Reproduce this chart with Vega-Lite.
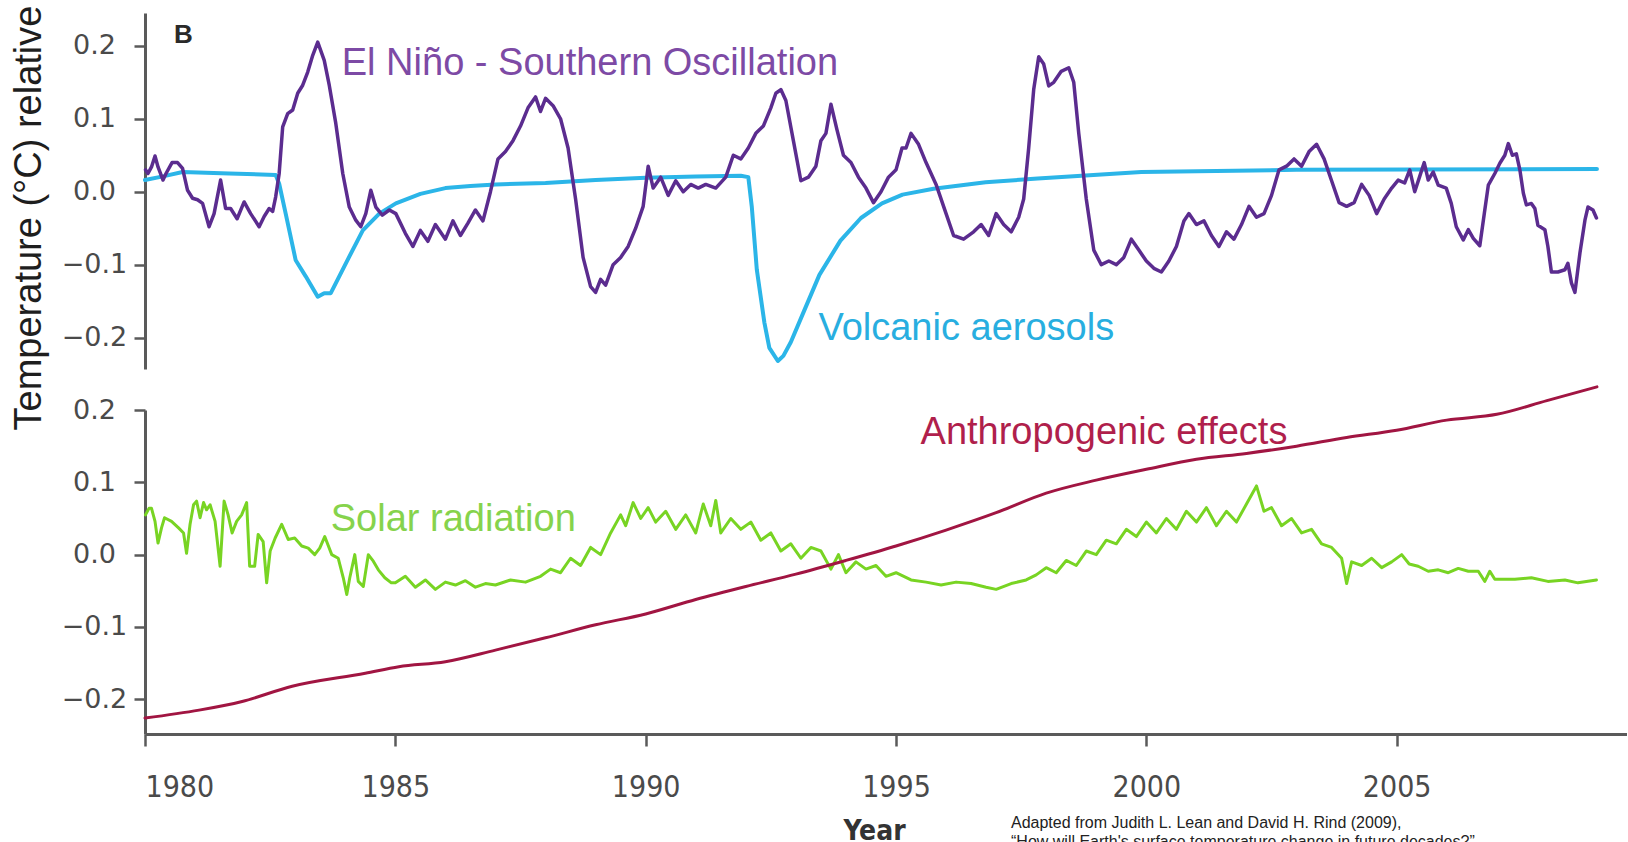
{
  "$schema": "https://vega.github.io/schema/vega-lite/v6.json",
  "background": "white",
  "padding": {"left": 9, "top": 5, "right": 0, "bottom": 0},
  "spacing": 41,
  "bounds": "flush",
  "config": {
    "view": {"stroke": null},
    "axis": {
      "grid": false,
      "domainColor": "#5a5a5a",
      "domainWidth": 3,
      "tickColor": "#5a5a5a",
      "tickWidth": 2.5,
      "tickSize": 11,
      "labelColor": "#4a4a4a"
    },
    "line": {"strokeJoin": "round", "strokeCap": "round"}
  },
  "datasets": {
    "enso": [
      {"year": 1980.01, "value": 0.030}, {"year": 1980.06, "value": 0.025}, {"year": 1980.13, "value": 0.034},
      {"year": 1980.20, "value": 0.049}, {"year": 1980.26, "value": 0.034}, {"year": 1980.36, "value": 0.016},
      {"year": 1980.42, "value": 0.025}, {"year": 1980.54, "value": 0.040}, {"year": 1980.65, "value": 0.040},
      {"year": 1980.75, "value": 0.032}, {"year": 1980.85, "value": 0.002}, {"year": 1980.95, "value": -0.009},
      {"year": 1981.05, "value": -0.011}, {"year": 1981.15, "value": -0.016}, {"year": 1981.28, "value": -0.048},
      {"year": 1981.38, "value": -0.030}, {"year": 1981.51, "value": 0.016}, {"year": 1981.61, "value": -0.023},
      {"year": 1981.71, "value": -0.023}, {"year": 1981.84, "value": -0.037}, {"year": 1981.98, "value": -0.014},
      {"year": 1982.11, "value": -0.030}, {"year": 1982.28, "value": -0.048}, {"year": 1982.38, "value": -0.034},
      {"year": 1982.48, "value": -0.023}, {"year": 1982.55, "value": -0.027}, {"year": 1982.61, "value": -0.007},
      {"year": 1982.68, "value": 0.025}, {"year": 1982.75, "value": 0.089}, {"year": 1982.85, "value": 0.107},
      {"year": 1982.95, "value": 0.112}, {"year": 1983.05, "value": 0.135}, {"year": 1983.15, "value": 0.146},
      {"year": 1983.25, "value": 0.164}, {"year": 1983.35, "value": 0.187}, {"year": 1983.45, "value": 0.205},
      {"year": 1983.58, "value": 0.180}, {"year": 1983.68, "value": 0.146}, {"year": 1983.81, "value": 0.094},
      {"year": 1983.95, "value": 0.025}, {"year": 1984.08, "value": -0.021}, {"year": 1984.21, "value": -0.039},
      {"year": 1984.31, "value": -0.048}, {"year": 1984.41, "value": -0.030}, {"year": 1984.51, "value": 0.002},
      {"year": 1984.61, "value": -0.021}, {"year": 1984.74, "value": -0.032}, {"year": 1984.88, "value": -0.025},
      {"year": 1985.01, "value": -0.030}, {"year": 1985.20, "value": -0.057}, {"year": 1985.35, "value": -0.075},
      {"year": 1985.50, "value": -0.053}, {"year": 1985.65, "value": -0.068}, {"year": 1985.80, "value": -0.045},
      {"year": 1986.00, "value": -0.065}, {"year": 1986.15, "value": -0.040}, {"year": 1986.30, "value": -0.060},
      {"year": 1986.45, "value": -0.043}, {"year": 1986.60, "value": -0.025}, {"year": 1986.75, "value": -0.040},
      {"year": 1986.90, "value": 0.000}, {"year": 1987.05, "value": 0.045}, {"year": 1987.20, "value": 0.055},
      {"year": 1987.35, "value": 0.070}, {"year": 1987.50, "value": 0.090}, {"year": 1987.65, "value": 0.115},
      {"year": 1987.80, "value": 0.130}, {"year": 1987.90, "value": 0.110}, {"year": 1988.00, "value": 0.128},
      {"year": 1988.15, "value": 0.118}, {"year": 1988.30, "value": 0.100}, {"year": 1988.45, "value": 0.060},
      {"year": 1988.60, "value": -0.010}, {"year": 1988.75, "value": -0.090}, {"year": 1988.90, "value": -0.130},
      {"year": 1989.00, "value": -0.138}, {"year": 1989.10, "value": -0.120}, {"year": 1989.20, "value": -0.128},
      {"year": 1989.35, "value": -0.100}, {"year": 1989.50, "value": -0.090}, {"year": 1989.65, "value": -0.075},
      {"year": 1989.80, "value": -0.050}, {"year": 1989.95, "value": -0.020}, {"year": 1990.05, "value": 0.035},
      {"year": 1990.15, "value": 0.005}, {"year": 1990.30, "value": 0.020}, {"year": 1990.45, "value": -0.005},
      {"year": 1990.60, "value": 0.015}, {"year": 1990.75, "value": 0.000}, {"year": 1990.90, "value": 0.010},
      {"year": 1991.05, "value": 0.005}, {"year": 1991.20, "value": 0.010}, {"year": 1991.40, "value": 0.005},
      {"year": 1991.60, "value": 0.020}, {"year": 1991.75, "value": 0.050}, {"year": 1991.90, "value": 0.045},
      {"year": 1992.05, "value": 0.060}, {"year": 1992.20, "value": 0.080}, {"year": 1992.35, "value": 0.090},
      {"year": 1992.50, "value": 0.115}, {"year": 1992.60, "value": 0.135}, {"year": 1992.70, "value": 0.140},
      {"year": 1992.80, "value": 0.125}, {"year": 1992.95, "value": 0.070}, {"year": 1993.10, "value": 0.015},
      {"year": 1993.25, "value": 0.020}, {"year": 1993.40, "value": 0.035}, {"year": 1993.50, "value": 0.070},
      {"year": 1993.60, "value": 0.080}, {"year": 1993.70, "value": 0.120}, {"year": 1993.82, "value": 0.085},
      {"year": 1993.95, "value": 0.050}, {"year": 1994.10, "value": 0.040}, {"year": 1994.25, "value": 0.020},
      {"year": 1994.40, "value": 0.005}, {"year": 1994.55, "value": -0.015}, {"year": 1994.70, "value": 0.000},
      {"year": 1994.85, "value": 0.020}, {"year": 1995.00, "value": 0.030}, {"year": 1995.12, "value": 0.060},
      {"year": 1995.20, "value": 0.060}, {"year": 1995.30, "value": 0.080}, {"year": 1995.45, "value": 0.065},
      {"year": 1995.60, "value": 0.040}, {"year": 1995.80, "value": 0.010}, {"year": 1996.00, "value": -0.030},
      {"year": 1996.15, "value": -0.060}, {"year": 1996.35, "value": -0.065}, {"year": 1996.55, "value": -0.055},
      {"year": 1996.70, "value": -0.045}, {"year": 1996.85, "value": -0.060}, {"year": 1997.00, "value": -0.030},
      {"year": 1997.15, "value": -0.045}, {"year": 1997.30, "value": -0.055}, {"year": 1997.45, "value": -0.035},
      {"year": 1997.55, "value": -0.010}, {"year": 1997.65, "value": 0.060}, {"year": 1997.75, "value": 0.140},
      {"year": 1997.85, "value": 0.185}, {"year": 1997.95, "value": 0.175}, {"year": 1998.05, "value": 0.145},
      {"year": 1998.15, "value": 0.150}, {"year": 1998.30, "value": 0.165}, {"year": 1998.45, "value": 0.170},
      {"year": 1998.55, "value": 0.150}, {"year": 1998.65, "value": 0.080}, {"year": 1998.80, "value": -0.010},
      {"year": 1998.95, "value": -0.080}, {"year": 1999.10, "value": -0.100}, {"year": 1999.25, "value": -0.095},
      {"year": 1999.40, "value": -0.100}, {"year": 1999.55, "value": -0.090}, {"year": 1999.70, "value": -0.065},
      {"year": 1999.85, "value": -0.080}, {"year": 2000.00, "value": -0.095}, {"year": 2000.15, "value": -0.105},
      {"year": 2000.30, "value": -0.110}, {"year": 2000.45, "value": -0.095}, {"year": 2000.60, "value": -0.075},
      {"year": 2000.75, "value": -0.040}, {"year": 2000.85, "value": -0.030}, {"year": 2001.00, "value": -0.045},
      {"year": 2001.15, "value": -0.040}, {"year": 2001.30, "value": -0.060}, {"year": 2001.45, "value": -0.075},
      {"year": 2001.60, "value": -0.055}, {"year": 2001.75, "value": -0.065}, {"year": 2001.90, "value": -0.045},
      {"year": 2002.05, "value": -0.020}, {"year": 2002.20, "value": -0.035}, {"year": 2002.35, "value": -0.030},
      {"year": 2002.50, "value": -0.005}, {"year": 2002.65, "value": 0.030}, {"year": 2002.80, "value": 0.035},
      {"year": 2002.95, "value": 0.045}, {"year": 2003.10, "value": 0.035}, {"year": 2003.25, "value": 0.055},
      {"year": 2003.40, "value": 0.065}, {"year": 2003.55, "value": 0.045}, {"year": 2003.70, "value": 0.015},
      {"year": 2003.85, "value": -0.015}, {"year": 2004.00, "value": -0.020}, {"year": 2004.15, "value": -0.015},
      {"year": 2004.30, "value": 0.010}, {"year": 2004.45, "value": -0.005}, {"year": 2004.60, "value": -0.030},
      {"year": 2004.75, "value": -0.010}, {"year": 2004.90, "value": 0.005}, {"year": 2005.03, "value": 0.016},
      {"year": 2005.16, "value": 0.012}, {"year": 2005.26, "value": 0.030}, {"year": 2005.36, "value": 0.000},
      {"year": 2005.46, "value": 0.021}, {"year": 2005.55, "value": 0.040}, {"year": 2005.63, "value": 0.016},
      {"year": 2005.73, "value": 0.027}, {"year": 2005.83, "value": 0.009}, {"year": 2005.99, "value": 0.005},
      {"year": 2006.09, "value": -0.016}, {"year": 2006.19, "value": -0.048}, {"year": 2006.33, "value": -0.066},
      {"year": 2006.43, "value": -0.052}, {"year": 2006.53, "value": -0.064}, {"year": 2006.66, "value": -0.074},
      {"year": 2006.75, "value": -0.030}, {"year": 2006.83, "value": 0.009}, {"year": 2006.96, "value": 0.025},
      {"year": 2007.06, "value": 0.039}, {"year": 2007.16, "value": 0.050}, {"year": 2007.23, "value": 0.066},
      {"year": 2007.31, "value": 0.050}, {"year": 2007.39, "value": 0.052}, {"year": 2007.46, "value": 0.030},
      {"year": 2007.53, "value": -0.002}, {"year": 2007.59, "value": -0.018}, {"year": 2007.69, "value": -0.016},
      {"year": 2007.76, "value": -0.023}, {"year": 2007.82, "value": -0.046}, {"year": 2007.96, "value": -0.052},
      {"year": 2008.02, "value": -0.075}, {"year": 2008.09, "value": -0.110}, {"year": 2008.22, "value": -0.110},
      {"year": 2008.36, "value": -0.107}, {"year": 2008.42, "value": -0.098}, {"year": 2008.49, "value": -0.125},
      {"year": 2008.56, "value": -0.138}, {"year": 2008.66, "value": -0.084}, {"year": 2008.76, "value": -0.039},
      {"year": 2008.82, "value": -0.021}, {"year": 2008.92, "value": -0.025}, {"year": 2008.99, "value": -0.036}
    ],
    "volcanic": [
      {"year": 1980.00, "value": 0.016}, {"year": 1980.36, "value": 0.021}, {"year": 1980.75, "value": 0.027},
      {"year": 1981.68, "value": 0.025}, {"year": 1982.61, "value": 0.023}, {"year": 1982.68, "value": 0.011},
      {"year": 1982.81, "value": -0.030}, {"year": 1983.01, "value": -0.094}, {"year": 1983.21, "value": -0.116},
      {"year": 1983.45, "value": -0.144}, {"year": 1983.58, "value": -0.139}, {"year": 1983.71, "value": -0.139},
      {"year": 1983.88, "value": -0.116}, {"year": 1984.08, "value": -0.089}, {"year": 1984.35, "value": -0.053},
      {"year": 1984.68, "value": -0.030}, {"year": 1985.01, "value": -0.016}, {"year": 1985.50, "value": -0.003},
      {"year": 1986.00, "value": 0.005}, {"year": 1986.50, "value": 0.008}, {"year": 1987.00, "value": 0.010},
      {"year": 1988.00, "value": 0.012}, {"year": 1989.00, "value": 0.016}, {"year": 1990.00, "value": 0.019},
      {"year": 1991.00, "value": 0.021}, {"year": 1991.90, "value": 0.022}, {"year": 1992.05, "value": 0.020},
      {"year": 1992.12, "value": -0.021}, {"year": 1992.22, "value": -0.107}, {"year": 1992.37, "value": -0.179},
      {"year": 1992.47, "value": -0.214}, {"year": 1992.64, "value": -0.232}, {"year": 1992.75, "value": -0.225},
      {"year": 1992.90, "value": -0.206}, {"year": 1993.16, "value": -0.164}, {"year": 1993.47, "value": -0.114},
      {"year": 1993.89, "value": -0.067}, {"year": 1994.30, "value": -0.036}, {"year": 1994.72, "value": -0.016},
      {"year": 1995.13, "value": -0.004}, {"year": 1995.75, "value": 0.004}, {"year": 1996.79, "value": 0.013},
      {"year": 1997.83, "value": 0.018}, {"year": 1999.90, "value": 0.027}, {"year": 2003.00, "value": 0.030},
      {"year": 2009.00, "value": 0.031}
    ],
    "solar": [
      {"year": 1980.01, "value": 0.055}, {"year": 1980.08, "value": 0.064}, {"year": 1980.13, "value": 0.064},
      {"year": 1980.20, "value": 0.046}, {"year": 1980.26, "value": 0.016}, {"year": 1980.33, "value": 0.037},
      {"year": 1980.39, "value": 0.051}, {"year": 1980.53, "value": 0.046}, {"year": 1980.67, "value": 0.037},
      {"year": 1980.77, "value": 0.030}, {"year": 1980.83, "value": 0.002}, {"year": 1980.90, "value": 0.042},
      {"year": 1980.97, "value": 0.069}, {"year": 1981.03, "value": 0.074}, {"year": 1981.10, "value": 0.051},
      {"year": 1981.17, "value": 0.072}, {"year": 1981.23, "value": 0.062}, {"year": 1981.30, "value": 0.069},
      {"year": 1981.40, "value": 0.046}, {"year": 1981.50, "value": -0.016}, {"year": 1981.58, "value": 0.074},
      {"year": 1981.66, "value": 0.055}, {"year": 1981.74, "value": 0.030}, {"year": 1981.83, "value": 0.046},
      {"year": 1981.93, "value": 0.055}, {"year": 1982.03, "value": 0.072}, {"year": 1982.09, "value": -0.016},
      {"year": 1982.19, "value": -0.016}, {"year": 1982.26, "value": 0.028}, {"year": 1982.36, "value": 0.018},
      {"year": 1982.43, "value": -0.039}, {"year": 1982.50, "value": 0.005}, {"year": 1982.60, "value": 0.023},
      {"year": 1982.73, "value": 0.042}, {"year": 1982.86, "value": 0.021}, {"year": 1982.99, "value": 0.023},
      {"year": 1983.13, "value": 0.012}, {"year": 1983.26, "value": 0.009}, {"year": 1983.39, "value": 0.000},
      {"year": 1983.49, "value": 0.009}, {"year": 1983.59, "value": 0.025}, {"year": 1983.73, "value": 0.000},
      {"year": 1983.86, "value": -0.005}, {"year": 1983.96, "value": -0.032}, {"year": 1984.03, "value": -0.055},
      {"year": 1984.09, "value": -0.032}, {"year": 1984.19, "value": 0.000}, {"year": 1984.26, "value": -0.037},
      {"year": 1984.36, "value": -0.044}, {"year": 1984.46, "value": 0.000}, {"year": 1984.56, "value": -0.009},
      {"year": 1984.66, "value": -0.021}, {"year": 1984.79, "value": -0.032}, {"year": 1984.92, "value": -0.039},
      {"year": 1985.00, "value": -0.039}, {"year": 1985.20, "value": -0.030}, {"year": 1985.40, "value": -0.045},
      {"year": 1985.60, "value": -0.035}, {"year": 1985.80, "value": -0.048}, {"year": 1986.00, "value": -0.038},
      {"year": 1986.20, "value": -0.042}, {"year": 1986.40, "value": -0.036}, {"year": 1986.60, "value": -0.045},
      {"year": 1986.80, "value": -0.040}, {"year": 1987.00, "value": -0.042}, {"year": 1987.30, "value": -0.035},
      {"year": 1987.60, "value": -0.038}, {"year": 1987.90, "value": -0.030}, {"year": 1988.10, "value": -0.020},
      {"year": 1988.30, "value": -0.025}, {"year": 1988.50, "value": -0.005}, {"year": 1988.70, "value": -0.015},
      {"year": 1988.90, "value": 0.010}, {"year": 1989.10, "value": 0.000}, {"year": 1989.30, "value": 0.030},
      {"year": 1989.50, "value": 0.055}, {"year": 1989.60, "value": 0.040}, {"year": 1989.75, "value": 0.072},
      {"year": 1989.90, "value": 0.050}, {"year": 1990.05, "value": 0.065}, {"year": 1990.20, "value": 0.045},
      {"year": 1990.40, "value": 0.060}, {"year": 1990.60, "value": 0.035}, {"year": 1990.80, "value": 0.055},
      {"year": 1991.00, "value": 0.030}, {"year": 1991.15, "value": 0.070}, {"year": 1991.30, "value": 0.040},
      {"year": 1991.40, "value": 0.075}, {"year": 1991.50, "value": 0.030}, {"year": 1991.70, "value": 0.050},
      {"year": 1991.90, "value": 0.035}, {"year": 1992.10, "value": 0.045}, {"year": 1992.30, "value": 0.020},
      {"year": 1992.50, "value": 0.030}, {"year": 1992.70, "value": 0.005}, {"year": 1992.90, "value": 0.015},
      {"year": 1993.10, "value": -0.005}, {"year": 1993.30, "value": 0.010}, {"year": 1993.50, "value": 0.005},
      {"year": 1993.70, "value": -0.020}, {"year": 1993.85, "value": 0.000}, {"year": 1994.00, "value": -0.025},
      {"year": 1994.20, "value": -0.010}, {"year": 1994.40, "value": -0.020}, {"year": 1994.60, "value": -0.015},
      {"year": 1994.80, "value": -0.030}, {"year": 1995.00, "value": -0.025}, {"year": 1995.30, "value": -0.035},
      {"year": 1995.60, "value": -0.038}, {"year": 1995.90, "value": -0.042}, {"year": 1996.20, "value": -0.038},
      {"year": 1996.50, "value": -0.040}, {"year": 1996.80, "value": -0.045}, {"year": 1997.00, "value": -0.048},
      {"year": 1997.30, "value": -0.040}, {"year": 1997.60, "value": -0.035}, {"year": 1997.80, "value": -0.028},
      {"year": 1998.00, "value": -0.018}, {"year": 1998.20, "value": -0.025}, {"year": 1998.40, "value": -0.008},
      {"year": 1998.60, "value": -0.015}, {"year": 1998.80, "value": 0.005}, {"year": 1999.00, "value": 0.000},
      {"year": 1999.20, "value": 0.020}, {"year": 1999.40, "value": 0.015}, {"year": 1999.60, "value": 0.035},
      {"year": 1999.80, "value": 0.025}, {"year": 2000.00, "value": 0.045}, {"year": 2000.20, "value": 0.030},
      {"year": 2000.40, "value": 0.050}, {"year": 2000.60, "value": 0.035}, {"year": 2000.80, "value": 0.060},
      {"year": 2001.00, "value": 0.045}, {"year": 2001.20, "value": 0.065}, {"year": 2001.40, "value": 0.040},
      {"year": 2001.60, "value": 0.060}, {"year": 2001.80, "value": 0.045}, {"year": 2002.00, "value": 0.070},
      {"year": 2002.20, "value": 0.095}, {"year": 2002.35, "value": 0.060}, {"year": 2002.50, "value": 0.065},
      {"year": 2002.70, "value": 0.040}, {"year": 2002.90, "value": 0.050}, {"year": 2003.10, "value": 0.030},
      {"year": 2003.30, "value": 0.035}, {"year": 2003.50, "value": 0.015}, {"year": 2003.70, "value": 0.010},
      {"year": 2003.90, "value": -0.005}, {"year": 2004.00, "value": -0.040}, {"year": 2004.10, "value": -0.010},
      {"year": 2004.30, "value": -0.015}, {"year": 2004.50, "value": -0.005}, {"year": 2004.70, "value": -0.018},
      {"year": 2004.90, "value": -0.010}, {"year": 2005.10, "value": 0.000}, {"year": 2005.25, "value": -0.013},
      {"year": 2005.43, "value": -0.016}, {"year": 2005.63, "value": -0.023}, {"year": 2005.83, "value": -0.021},
      {"year": 2006.03, "value": -0.025}, {"year": 2006.23, "value": -0.019}, {"year": 2006.43, "value": -0.023},
      {"year": 2006.63, "value": -0.023}, {"year": 2006.76, "value": -0.037}, {"year": 2006.86, "value": -0.023},
      {"year": 2006.96, "value": -0.034}, {"year": 2007.36, "value": -0.034}, {"year": 2007.69, "value": -0.032},
      {"year": 2008.02, "value": -0.037}, {"year": 2008.36, "value": -0.035}, {"year": 2008.62, "value": -0.039},
      {"year": 2008.99, "value": -0.035}
    ],
    "anthro": [
      {"year": 1980.00, "value": -0.226}, {"year": 1981.08, "value": -0.215}, {"year": 1981.94, "value": -0.203},
      {"year": 1982.94, "value": -0.182}, {"year": 1984.40, "value": -0.164}, {"year": 1985.07, "value": -0.155},
      {"year": 1986.00, "value": -0.148}, {"year": 1987.00, "value": -0.132}, {"year": 1988.00, "value": -0.115},
      {"year": 1989.00, "value": -0.097}, {"year": 1990.00, "value": -0.082}, {"year": 1991.00, "value": -0.062},
      {"year": 1992.00, "value": -0.044}, {"year": 1993.00, "value": -0.027}, {"year": 1994.00, "value": -0.008},
      {"year": 1995.00, "value": 0.012}, {"year": 1996.00, "value": 0.034}, {"year": 1997.00, "value": 0.058},
      {"year": 1998.00, "value": 0.085}, {"year": 1999.00, "value": 0.103}, {"year": 2000.00, "value": 0.118},
      {"year": 2001.00, "value": 0.132}, {"year": 2002.00, "value": 0.140}, {"year": 2003.00, "value": 0.150},
      {"year": 2004.00, "value": 0.162}, {"year": 2005.00, "value": 0.172}, {"year": 2006.00, "value": 0.186},
      {"year": 2007.00, "value": 0.194}, {"year": 2008.00, "value": 0.213}, {"year": 2009.00, "value": 0.232}
    ]
  },
  "vconcat": [
    {
      "width": 1482,
      "height": 356,
      "layer": [
        {
          "data": {"name": "volcanic"},
          "mark": {"type": "line", "color": "#2bb5e8", "strokeWidth": 4},
          "encoding": {
            "x": {"field": "year", "type": "quantitative", "scale": {"domain": [1980, 2009.6], "nice": false, "zero": false}, "axis": null},
            "y": {
              "field": "value", "type": "quantitative",
              "scale": {"domain": [-0.243, 0.245], "nice": false, "zero": false},
              "axis": {
                "values": [-0.2, -0.1, 0, 0.1, 0.2], "format": ".1f",
                "title": "Temperature (°C) relative",
                "titleFont": "Liberation Sans", "titleFontSize": 38, "titleFontWeight": "normal",
                "titleColor": "#1e1e1e", "titleX": -97, "titleY": 204.5, "titleAngle": -90,
                "titleBaseline": "bottom", "titleAlign": "center",
                "labelAlign": "center", "labelPadding": 40,
                "labelFont": "DejaVu Sans", "labelFontSize": 27
              }
            }
          }
        },
        {
          "data": {"name": "enso"},
          "mark": {"type": "line", "color": "#5b2c8f", "strokeWidth": 3.5},
          "encoding": {
            "x": {"field": "year", "type": "quantitative"},
            "y": {"field": "value", "type": "quantitative"}
          }
        },
        {
          "data": {"values": [{}]},
          "mark": {"type": "text", "align": "left", "baseline": "alphabetic", "font": "Liberation Sans", "fontWeight": "bold", "fontSize": 26, "color": "#2a2a2a"},
          "encoding": {"x": {"datum": 1980.58}, "y": {"datum": 0.204}, "text": {"value": "B"}}
        },
        {
          "data": {"values": [{}]},
          "mark": {"type": "text", "align": "left", "baseline": "alphabetic", "font": "Liberation Sans", "fontSize": 38, "color": "#7d4aa5"},
          "encoding": {"x": {"datum": 1983.93}, "y": {"datum": 0.16}, "text": {"value": "El Niño - Southern Oscillation"}}
        },
        {
          "data": {"values": [{}]},
          "mark": {"type": "text", "align": "left", "baseline": "alphabetic", "font": "Liberation Sans", "fontSize": 38, "color": "#28aee0"},
          "encoding": {"x": {"datum": 1993.45}, "y": {"datum": -0.203}, "text": {"value": "Volcanic aerosols"}}
        }
      ]
    },
    {
      "width": 1482,
      "height": 324,
      "title": {
        "text": ["Adapted from Judith L. Lean and David H. Rind (2009),", "“How will Earth's surface temperature change in future decades?”"],
        "orient": "bottom", "anchor": "start", "frame": "group", "dx": 866, "offset": -30,
        "font": "Liberation Sans", "fontSize": 16, "fontWeight": "normal", "color": "#222222", "lineHeight": 19
      },
      "layer": [
        {
          "data": {"name": "solar"},
          "mark": {"type": "line", "color": "#78d423", "strokeWidth": 3},
          "encoding": {
            "x": {
              "field": "year", "type": "quantitative",
              "scale": {"domain": [1980, 2009.6], "nice": false, "zero": false},
              "axis": {
                "values": [1980, 1985, 1990, 1995, 2000, 2005], "format": "d",
                "title": "Year", "titleFont": "DejaVu Sans Condensed, Liberation Sans Narrow, DejaVu Sans",
                "titleFontSize": 28, "titleFontWeight": "bold", "titleColor": "#333333",
                "titlePadding": 15, "titleX": 729,
                "tickSize": 12, "labelPadding": 26,
                "labelFont": "DejaVu Sans Condensed, Liberation Sans Narrow, DejaVu Sans", "labelFontSize": 30
              }
            },
            "y": {
              "field": "value", "type": "quantitative",
              "scale": {"domain": [-0.248, 0.2], "nice": false, "zero": false},
              "axis": {
                "values": [-0.2, -0.1, 0, 0.1, 0.2], "format": ".1f", "title": null,
                "labelAlign": "center", "labelPadding": 40,
                "labelFont": "DejaVu Sans", "labelFontSize": 27
              }
            }
          }
        },
        {
          "data": {"name": "anthro"},
          "mark": {"type": "line", "color": "#a11542", "strokeWidth": 3, "interpolate": "monotone"},
          "encoding": {
            "x": {"field": "year", "type": "quantitative"},
            "y": {"field": "value", "type": "quantitative"}
          }
        },
        {
          "data": {"values": [{}]},
          "mark": {"type": "text", "align": "left", "baseline": "alphabetic", "font": "Liberation Sans", "fontSize": 38, "color": "#b01f4c"},
          "encoding": {"x": {"datum": 1995.49}, "y": {"datum": 0.153}, "text": {"value": "Anthropogenic effects"}}
        },
        {
          "data": {"values": [{}]},
          "mark": {"type": "text", "align": "left", "baseline": "alphabetic", "font": "Liberation Sans", "fontSize": 38, "color": "#86d34c"},
          "encoding": {"x": {"datum": 1983.71}, "y": {"datum": 0.033}, "text": {"value": "Solar radiation"}}
        }
      ]
    }
  ]
}
